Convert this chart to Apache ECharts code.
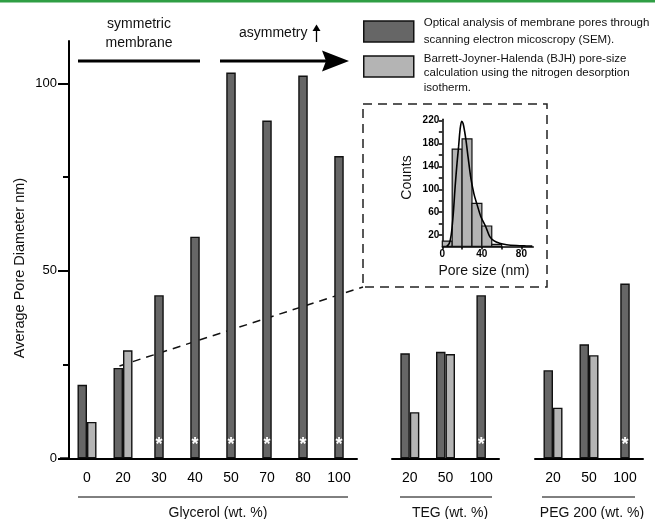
<!DOCTYPE html>
<html><head><meta charset="utf-8">
<script src="https://cdn.jsdelivr.net/npm/echarts@6/dist/echarts.min.js"></script>
<style>html,body{margin:0;padding:0;background:#fff}#c{width:655px;height:519px}</style>
</head><body><div id="c"></div>
<script>
// ---- data ----
const glycerolCats = ['0', '20', '30', '40', '50', '70', '80', '100'];
const glycerolSEM = [19.6, 24.1, 43.5, 59.1, 102.9, 90.1, 102.1, 80.6];
const glycerolBJH = [9.7, 28.8, null, null, null, null, null, null];
const tegCats = ['20', '50', '100'];
const tegSEM = [28.0, 28.4, 43.5];
const tegBJH = [12.3, 27.8, null];
const pegCats = ['20', '50', '100'];
const pegSEM = [23.5, 30.4, 46.6];
const pegBJH = [13.5, 27.5, null];
const yTickValues = [0, 50, 100];
const yMinorTickValues = [25, 75];
const groupNames = ['Glycerol (wt. %)', 'TEG (wt. %)', 'PEG 200 (wt. %)'];
const semName = 'Optical analysis of membrane pores through\nscanning electron micoscropy (SEM).';
const bjhName = 'Barrett-Joyner-Halenda (BJH) pore-size\ncalculation using the nitrogen desorption\nisotherm.';
// inset histogram
const histBinStart = [0, 10, 20, 30, 40, 50];
const histBinEnd = [10, 20, 30, 40, 50, 60];
const histCounts = [9.4, 170.4, 188.4, 75.4, 35.7, 3.7];
const fitX = [4.5, 7, 9, 11, 13, 15, 16.5, 18, 19.6, 21, 22.5, 24, 26, 29, 32, 35, 39, 44, 48, 52, 58, 65, 75, 85, 91];
const fitY = [0, 5, 20, 55, 105, 148, 175, 205, 219, 215, 202, 185, 157, 118, 92, 74, 52, 34, 17, 10, 5.5, 3, 1.5, 0.8, 0.5];
const insetYTickValues = [20, 40, 60, 80, 100, 120, 140, 160, 180, 200, 220];
const insetYLabelValues = [20, 60, 100, 140, 180, 220];
const insetXTickValues = [0, 20, 40, 60, 80];
const insetXLabelValues = [0, 40, 80];

// ---- styles ----
const FONT = "'Liberation Sans', Arial, sans-serif";
const DARK = '#666666';
const LIGHT = '#b4b4b4';
const EDGE = '#111111';
const YMAX = 111.3;

const panels = [
  {cats: glycerolCats, sem: glycerolSEM, bjh: glycerolBJH, grid: {left: 69, top: 41, width: 288, height: 417.3}},
  {cats: tegCats, sem: tegSEM, bjh: tegBJH, grid: {left: 392, top: 41, width: 107, height: 417.3}},
  {cats: pegCats, sem: pegSEM, bjh: pegBJH, grid: {left: 535, top: 41, width: 108, height: 417.3}}
];

const grid = panels.map(p => p.grid).concat([{left: 442.3, top: 119.3, width: 91, height: 127.1}]);
const xAxis = [];
const yAxis = [];
const series = [];

panels.forEach((p, i) => {
  xAxis.push({
    type: 'category', gridIndex: i, data: p.cats, boundaryGap: true,
    axisLine: {lineStyle: {color: '#000', width: 2}},
    axisTick: {alignWithLabel: true, length: 8, lineStyle: {color: '#000', width: 2}},
    axisLabel: {fontSize: 14, color: '#000', margin: 13, fontFamily: FONT},
    splitLine: {show: false}
  });
  xAxis.push({type: 'category', gridIndex: i, data: p.cats, show: false});
});
// inset x axis (index 6)
xAxis.push({
  type: 'value', gridIndex: 3, min: 0, max: 92,
  axisLine: {lineStyle: {color: '#000', width: 1.5}},
  axisTick: {customValues: insetXTickValues, length: 3, lineStyle: {color: '#000', width: 1.5}},
  axisLabel: {customValues: insetXLabelValues, fontSize: 10, fontWeight: 'bold', color: '#000', margin: 3, fontFamily: FONT},
  splitLine: {show: false}
});

// y axes
yAxis.push({
  type: 'value', gridIndex: 0, min: 0, max: YMAX, position: 'left',
  axisLine: {show: true, lineStyle: {color: '#000', width: 2}},
  axisTick: {show: true, customValues: yTickValues, length: 11, lineStyle: {color: '#000', width: 2}},
  axisLabel: {customValues: yTickValues, fontSize: 13, color: '#000', margin: 12, fontFamily: FONT},
  splitLine: {show: false}
});
yAxis.push({
  type: 'value', gridIndex: 0, min: 0, max: YMAX, position: 'left', offset: 0,
  axisLine: {show: false},
  axisTick: {show: true, customValues: yMinorTickValues, length: 6, lineStyle: {color: '#000', width: 2}},
  axisLabel: {show: false},
  splitLine: {show: false}
});
yAxis.push({type: 'value', gridIndex: 1, min: 0, max: YMAX, show: false, splitLine: {show: false}});
yAxis.push({type: 'value', gridIndex: 2, min: 0, max: YMAX, show: false, splitLine: {show: false}});
yAxis.push({
  type: 'value', gridIndex: 3, min: 0, max: 222.5,
  axisLine: {show: true, lineStyle: {color: '#000', width: 1.5}},
  axisTick: {show: true, customValues: insetYTickValues, length: 3.5, lineStyle: {color: '#000', width: 1.5}},
  axisLabel: {customValues: insetYLabelValues, fontSize: 10, fontWeight: 'bold', color: '#000', margin: 3, fontFamily: FONT},
  splitLine: {show: false}
});

const panelY = [0, 2, 3];
panels.forEach((p, i) => {
  series.push({
    name: semName, type: 'bar', xAxisIndex: 2 * i, yAxisIndex: panelY[i],
    data: p.sem.map((v, k) => p.bjh[k] == null ? '-' : v),
    barWidth: 9.5, barGap: '0%',
    itemStyle: {color: DARK, borderColor: EDGE, borderWidth: 1.4}
  });
  series.push({
    name: bjhName, type: 'bar', xAxisIndex: 2 * i, yAxisIndex: panelY[i],
    data: p.bjh.map(v => v == null ? '-' : v),
    barWidth: 9.5, barGap: '0%',
    itemStyle: {color: LIGHT, borderColor: EDGE, borderWidth: 1.4}
  });
  series.push({
    name: semName, type: 'bar', xAxisIndex: 2 * i + 1, yAxisIndex: panelY[i],
    data: p.sem.map((v, k) => p.bjh[k] == null ? v : '-'),
    barWidth: 9.5,
    itemStyle: {color: DARK, borderColor: EDGE, borderWidth: 1.4},
    label: {show: true, position: 'insideBottom', distance: 4, formatter: '*', color: '#fff', fontSize: 18, fontWeight: 'bold', fontFamily: FONT}
  });
});

// inset histogram
series.push({
  type: 'custom', xAxisIndex: 6, yAxisIndex: 4,
  data: histCounts.map((c, i) => [histBinStart[i], histBinEnd[i], c]),
  encode: {x: [0, 1], y: 2},
  renderItem: function (params, api) {
    const p0 = api.coord([api.value(0), api.value(2)]);
    const p1 = api.coord([api.value(1), 0]);
    return {type: 'rect', shape: {x: p0[0], y: p0[1], width: p1[0] - p0[0], height: p1[1] - p0[1]},
      style: {fill: LIGHT, stroke: EDGE, lineWidth: 1.2}};
  },
  z: 2
});
series.push({
  type: 'line', xAxisIndex: 6, yAxisIndex: 4,
  data: fitX.map((x, i) => [x, fitY[i]]),
  smooth: 0.3, showSymbol: false, symbol: 'none',
  lineStyle: {color: '#000', width: 1.6}, z: 3
});

const legendBase = {
  orient: 'vertical', left: 363, itemWidth: 50, itemHeight: 21, padding: 0,
  selectedMode: false, icon: 'rect'
};

function buildGraphics(leaderStart, axisStart) {
  const g = [
    {type: 'rect', shape: {x: 0, y: 0, width: 655, height: 2.5}, style: {fill: '#2f9e44'}, silent: true},
    // top annotations
    {type: 'text', style: {text: 'symmetric\nmembrane', x: 139, y: 33.5, align: 'center', verticalAlign: 'middle', fontSize: 14, lineHeight: 19, fontFamily: FONT, fill: '#111'}},
    {type: 'line', shape: {x1: 78, y1: 61, x2: 200, y2: 61}, style: {stroke: '#000', lineWidth: 3}},
    {type: 'text', style: {text: 'asymmetry', x: 239, y: 33, align: 'left', verticalAlign: 'middle', fontSize: 14, fontFamily: FONT, fill: '#111'}},
    {type: 'line', shape: {x1: 316.5, y1: 42, x2: 316.5, y2: 29}, style: {stroke: '#000', lineWidth: 1.3}},
    {type: 'polygon', shape: {points: [[312.5, 31], [316.5, 24.5], [320.5, 31]]}, style: {fill: '#000'}},
    {type: 'line', shape: {x1: 220, y1: 61, x2: 330, y2: 61}, style: {stroke: '#000', lineWidth: 3}},
    {type: 'polygon', shape: {points: [[322, 50.5], [349, 61], [322, 71.5], [326, 61]]}, style: {fill: '#000'}},
    // y axis name
    {type: 'text', x: 20, y: 268, rotation: Math.PI / 2, style: {text: 'Average Pore Diameter nm)', align: 'center', verticalAlign: 'middle', fontSize: 14.5, fontFamily: FONT, fill: '#111'}},
    // group labels
    {type: 'line', shape: {x1: 78, y1: 497, x2: 348, y2: 497}, style: {stroke: '#000', lineWidth: 1}},
    {type: 'text', style: {text: groupNames[0], x: 218, y: 513, align: 'center', verticalAlign: 'middle', fontSize: 14, fontFamily: FONT, fill: '#111'}},
    {type: 'line', shape: {x1: 400, y1: 497, x2: 492, y2: 497}, style: {stroke: '#000', lineWidth: 1}},
    {type: 'text', style: {text: groupNames[1], x: 450, y: 513, align: 'center', verticalAlign: 'middle', fontSize: 14, fontFamily: FONT, fill: '#111'}},
    {type: 'line', shape: {x1: 542, y1: 497, x2: 635, y2: 497}, style: {stroke: '#000', lineWidth: 1}},
    {type: 'text', style: {text: groupNames[2], x: 592, y: 513, align: 'center', verticalAlign: 'middle', fontSize: 14, fontFamily: FONT, fill: '#111'}},
    // inset frame & names
    {type: 'rect', shape: {x: 363, y: 104, width: 184, height: 183}, style: {fill: 'none', stroke: '#222', lineWidth: 1.5, lineDash: [9, 6]}, z: 1},
    {type: 'text', x: 406.7, y: 177.5, rotation: Math.PI / 2, style: {text: 'Counts', align: 'center', verticalAlign: 'middle', fontSize: 14, fontFamily: FONT, fill: '#111'}},
    {type: 'text', style: {text: 'Pore size (nm)', x: 484, y: 271.5, align: 'center', verticalAlign: 'middle', fontSize: 14, fontFamily: FONT, fill: '#111'}}
  ];
  if (axisStart) {
    // short stub of the glycerol x-axis line to the left of the y axis
    g.push({type: 'line', shape: {x1: axisStart[0] - 9, y1: axisStart[1], x2: axisStart[0], y2: axisStart[1]},
      style: {stroke: '#000', lineWidth: 2}});
  }
  if (leaderStart) {
    g.push({type: 'line', shape: {x1: leaderStart[0], y1: leaderStart[1], x2: 363, y2: 287},
      style: {stroke: '#111', lineWidth: 1.5, lineDash: [8, 6]}, z: 1});
  }
  return g;
}

const option = {
  animation: false,
  backgroundColor: '#fff',
  textStyle: {fontFamily: FONT},
  grid: grid,
  xAxis: xAxis,
  yAxis: yAxis,
  legend: [
    Object.assign({}, legendBase, {
      top: 15,
      data: [{name: semName, itemStyle: {color: DARK, borderColor: EDGE, borderWidth: 1.5}}],
      textStyle: {fontSize: 11.5, lineHeight: 16.5, color: '#111', fontFamily: FONT, padding: [0, 0, 0, 5]}
    }),
    Object.assign({}, legendBase, {
      top: 38,
      data: [{name: bjhName, itemStyle: {color: LIGHT, borderColor: EDGE, borderWidth: 1.5}}],
      formatter: function (name) {
        return '{g| }\n' + name.split('\n').map(l => '{t|' + l + '}').join('\n');
      },
      textStyle: {
        color: '#111', fontFamily: FONT, padding: [0, 0, 0, 5],
        rich: {
          g: {fontSize: 1, lineHeight: 13.4, height: 13.4},
          t: {fontSize: 11.5, lineHeight: 14.5, color: '#111', fontFamily: FONT}
        }
      }
    })
  ],
  graphic: buildGraphics(null, null),
  series: series
};

const chart = echarts.init(document.getElementById('c'), null, {renderer: 'canvas'});
chart.setOption(option);
const p = chart.convertToPixel({xAxisIndex: 0, yAxisIndex: 0}, [glycerolCats[1], glycerolSEM[1]]);
const origin = chart.convertToPixel({gridIndex: 0}, [0, 0]);
chart.setOption({graphic: buildGraphics([p[0] - 3.5, p[1] - 2], [panels[0].grid.left, origin[1]])});
</script>
</body></html>
